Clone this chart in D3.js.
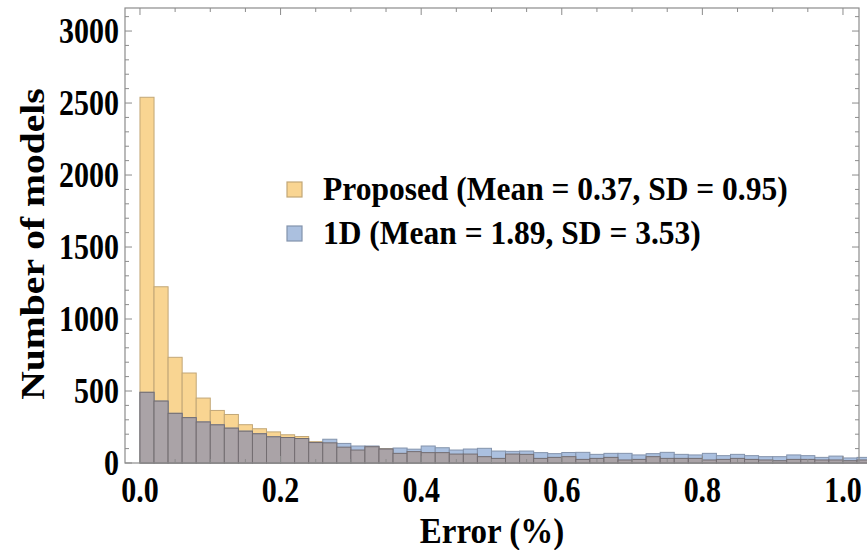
<!DOCTYPE html>
<html><head><meta charset="utf-8">
<script src="https://cdn.jsdelivr.net/npm/d3@7"></script>
<style>
body{margin:0;background:#fff}
svg{display:block}
text{font-family:"Liberation Serif","Times New Roman",serif;font-weight:bold;fill:#000}
</style>
</head><body>
<svg id="c" width="867" height="550"></svg>
<script>
// ---- data ----
const binWidth = 0.02;
const binStarts = [0.00,0.02,0.04,0.06,0.08,0.10,0.12,0.14,0.16,0.18,
                   0.20,0.22,0.24,0.26,0.28,0.30,0.32,0.34,0.36,0.38,
                   0.40,0.42,0.44,0.46,0.48,0.50,0.52,0.54,0.56,0.58,
                   0.60,0.62,0.64,0.66,0.68,0.70,0.72,0.74,0.76,0.78,
                   0.80,0.82,0.84,0.86,0.88,0.90,0.92,0.94,0.96,0.98,
                   1.00,1.02];
const proposed = [2540,1224,734,625,451,365,337,266,238,216,
                  196,184,148,140,110,90,113,100,67,79,
                  72,72,62,62,44,32,62,60,32,39,
                  44,25,32,39,21,25,44,32,32,32,
                  21,25,32,25,21,16,25,25,21,21,
                  16,21];
const oneD =     [491,430,345,315,285,265,242,221,203,182,
                  177,170,142,165,136,118,118,97,104,96,
                  118,106,90,97,102,83,81,83,72,65,
                  73,74,60,67,67,56,65,74,60,56,
                  67,51,60,51,44,44,56,51,39,48,
                  35,39];
const seriesNames = ["Proposed (Mean = 0.37, SD = 0.95)", "1D (Mean = 1.89, SD = 3.53)"];
const xTicks = [0, 0.2, 0.4, 0.6, 0.8, 1.0];
const xTickLabels = ["0.0","0.2","0.4","0.6","0.8","1.0"];
const yTicks = [0, 500, 1000, 1500, 2000, 2500, 3000];
const yTickLabels = ["0","500","1000","1500","2000","2500","3000"];
const xLabel = "Error (%)";
const yLabel = "Number of models";

// ---- layout ----
const L = 125, R = 859, T = 8, B = 463;
const svg = d3.select("#c");
const x = d3.scaleLinear().domain([-0.0213, 1.0228]).range([L, R]);
const y = d3.scaleLinear().domain([0, 3160]).range([B, T]);

const colP = "#f9d592", colD = "#abc0df", colO = "#aaa3a7";

const bins = binStarts.map((s, i) => ({s, p: proposed[i], d: oneD[i]}));
const g = svg.append("g");
g.selectAll("rect.p").data(bins).join("rect")
  .attr("x", d => x(d.s)).attr("width", d => x(d.s + binWidth) - x(d.s))
  .attr("y", d => y(d.p)).attr("height", d => y(0) - y(d.p))
  .attr("fill", colP).attr("stroke", "#c2a777").attr("stroke-width", 1);
g.selectAll("rect.d").data(bins).join("rect")
  .attr("x", d => x(d.s)).attr("width", d => x(d.s + binWidth) - x(d.s))
  .attr("y", d => y(d.d)).attr("height", d => y(0) - y(d.d))
  .attr("fill", colD).attr("stroke", "#8393ac").attr("stroke-width", 1);
g.selectAll("rect.o").data(bins).join("rect")
  .attr("x", d => x(d.s)).attr("width", d => x(d.s + binWidth) - x(d.s))
  .attr("y", d => y(Math.min(d.p, d.d))).attr("height", d => y(0) - y(Math.min(d.p, d.d)))
  .attr("fill", colO).attr("stroke", "#736d71").attr("stroke-width", 1);

// ---- frame & ticks ----
const tickCol = "#8c8c8c";
svg.append("rect").attr("x", L).attr("y", T).attr("width", R - L).attr("height", B - T)
  .attr("fill", "none").attr("stroke", tickCol).attr("stroke-width", 1.2);

const xMinor = d3.range(0, 1.0001, 0.05).filter(v => !xTicks.some(t => Math.abs(t - v) < 1e-6));
const yMinor = d3.range(0, 3101, 100).filter(v => !yTicks.includes(v));

const axisG = svg.append("g").attr("stroke", tickCol).attr("stroke-width", 1);
function xt(vals, len) {
  vals.forEach(v => {
    axisG.append("line").attr("x1", x(v)).attr("x2", x(v)).attr("y1", B).attr("y2", B - len);
    axisG.append("line").attr("x1", x(v)).attr("x2", x(v)).attr("y1", T).attr("y2", T + len);
  });
}
function yt(vals, len) {
  vals.forEach(v => {
    axisG.append("line").attr("y1", y(v)).attr("y2", y(v)).attr("x1", L).attr("x2", L + len);
    axisG.append("line").attr("y1", y(v)).attr("y2", y(v)).attr("x1", R).attr("x2", R - len);
  });
}
xt(xTicks, 7); xt(xMinor, 4);
yt(yTicks, 7); yt(yMinor, 4);

// ---- tick labels (tall, as in the reference) ----
svg.append("g").selectAll("text").data(xTicks).join("text")
  .attr("transform", d => `translate(${x(d)},502) scale(1,1.2)`).attr("text-anchor", "middle")
  .style("font-size", "30px").text((d, i) => xTickLabels[i]);
svg.append("g").selectAll("text").data(yTicks).join("text")
  .attr("transform", d => `translate(119,${y(d) + 12}) scale(1,1.2)`).attr("text-anchor", "end")
  .style("font-size", "30px").text((d, i) => yTickLabels[i]);

// ---- axis titles ----
svg.append("text").attr("transform", "translate(492,543) scale(1,1.1)").attr("text-anchor", "middle")
  .style("font-size", "33px").text(xLabel);
svg.append("text").attr("transform", "translate(44,244) scale(1,1.2) rotate(-90)").attr("text-anchor", "middle")
  .style("font-size", "33px").text(yLabel);

// ---- legend ----
const leg = svg.append("g");
[[colP, "#c2a777", 182], [colD, "#8393ac", 226]].forEach((c, i) => {
  leg.append("rect").attr("x", 287).attr("y", c[2]).attr("width", 15).attr("height", 15)
    .attr("fill", c[0]).attr("stroke", c[1]).attr("stroke-width", 1.2);
  leg.append("text").attr("transform", `translate(323,${c[2] + 18}) scale(1,1.08)`)
    .style("font-size", "31.5px").text(seriesNames[i]);
});
</script>
</body></html>
